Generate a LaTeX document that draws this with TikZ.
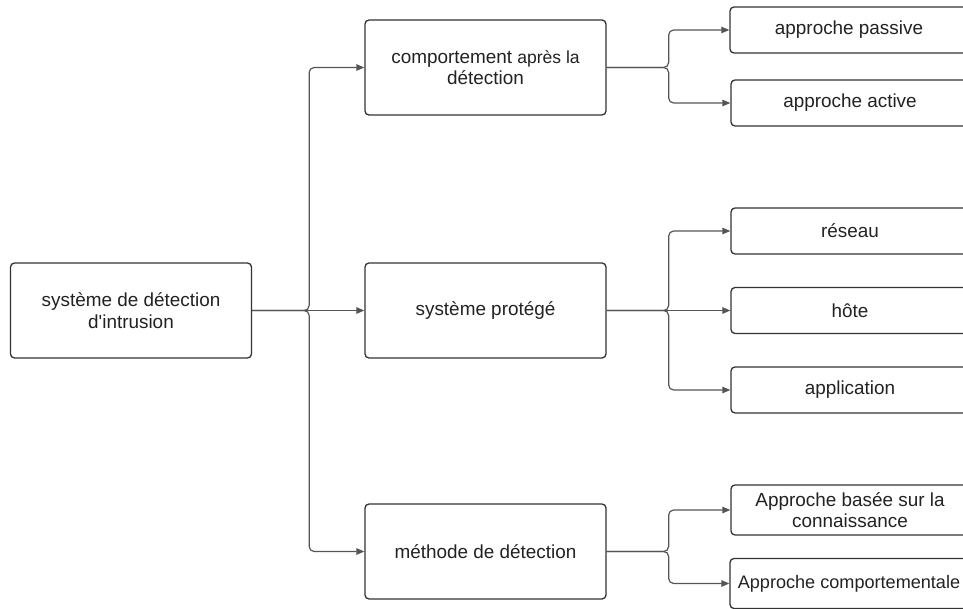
\documentclass[tikz,border=0pt]{standalone}
\usepackage{fontspec}
\setmainfont{Liberation Sans}
\usetikzlibrary{arrows.meta}
\definecolor{boxline}{HTML}{333333}
\definecolor{wire}{HTML}{555555}
\definecolor{ink}{HTML}{222222}
\begin{document}
\begin{tikzpicture}[x=1bp,y=-1bp,
  box/.style={draw=boxline, line width=1.3bp, rounded corners=4bp, fill=white,
    align=center, inner sep=0pt, text=ink,
    font=\fontsize{18.9bp}{21.5bp}\selectfont},
  bigbox/.style={box, minimum width=241bp, minimum height=95bp},
  leaf/.style={box, minimum width=238bp, minimum height=46bp},
  tallleaf/.style={box, minimum width=238bp, minimum height=50bp,
    font=\fontsize{18.9bp}{20.5bp}\selectfont},
  conn/.style={draw=wire, line width=1.2bp, rounded corners=5bp,
    -{Triangle[length=8bp,width=6.5bp]}}
]
\useasboundingbox (0,0) rectangle (963,609);
\clip (0,0) rectangle (963,609);

% root and first level
\node[bigbox] (root) at (131,310.5) {système de détection\\d\textquotesingle intrusion};
\node[bigbox] (comp) at (485.5,67.5) {comportement {\fontsize{17.5bp}{21.5bp}\selectfont après la}\\détection};
\node[bigbox] (prot) at (485.5,310.5) {système protégé};
\node[bigbox] (meth) at (485.5,551.5) {méthode de détection};

% leaves
\node[leaf] (pass) at (849,30) {approche passive};
\node[leaf] (act)  at (850,103) {approche active};
\node[leaf] (res)  at (850,231) {réseau};
\node[leaf] (hote) at (850,310.5) {hôte};
\node[leaf] (appl) at (850,390) {application};
\node[tallleaf] (conn) at (850,510) {Approche basée sur la\\connaissance};
\node[tallleaf, font=\fontsize{18.1bp}{20.5bp}\selectfont] (beh) at (849,583.5) {Approche comportementale};

% connectors from the root
\draw[conn] (root.east) -- ++(57,0) |- (comp.west);
\draw[conn] (root.east) -- (prot.west);
\draw[conn] (root.east) -- ++(57,0) |- (meth.west);

% connectors from the first level
\draw[conn] (comp.east) -- ++(62,0) |- (pass.west);
\draw[conn] (comp.east) -- ++(62,0) |- (act.west);
\draw[conn] (prot.east) -- ++(62,0) |- (res.west);
\draw[conn] (prot.east) -- (hote.west);
\draw[conn] (prot.east) -- ++(62,0) |- (appl.west);
\draw[conn] (meth.east) -- ++(62,0) |- (conn.west);
\draw[conn] (meth.east) -- ++(62,0) |- (beh.west);
\end{tikzpicture}
\end{document}
